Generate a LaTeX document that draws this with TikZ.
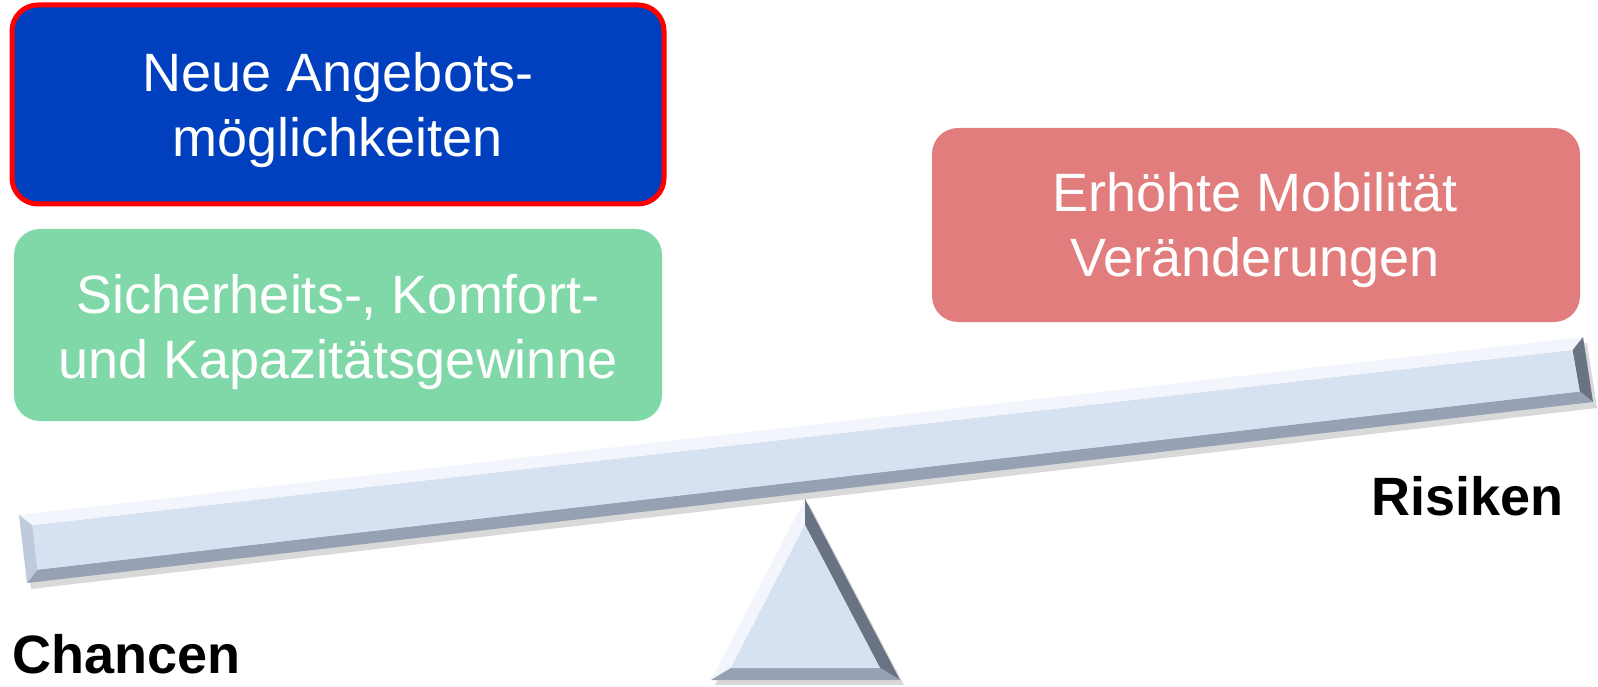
\documentclass[tikz,border=0pt]{standalone}
\usepackage{fontspec}
\setmainfont{Liberation Sans}
\begin{document}
\begin{tikzpicture}[x=1pt,y=-1pt,
  box/.style={rounded corners=26pt},
  boxtext/.style={text=white,align=center,inner sep=0pt,font=\fontsize{54}{65}\selectfont},
  label/.style={inner sep=0pt,font=\fontsize{54}{64}\selectfont\bfseries,text=black}]
\definecolor{bluebox}{RGB}{0,64,190}
\definecolor{greenbox}{RGB}{128,216,168}
\definecolor{pinkbox}{RGB}{226,125,125}
\definecolor{beamface}{RGB}{214,225,241}
\definecolor{bevtop}{RGB}{242,246,252}
\definecolor{bevleft}{RGB}{190,203,220}
\definecolor{bevbot}{RGB}{150,162,180}
\definecolor{bevright}{RGB}{105,115,132}
\useasboundingbox (0,0) rectangle (1598,687);
\fill[white] (0,0) rectangle (1598,687);
% boxes
\fill[box,bluebox] (12,5) rectangle (664,204);
\draw[box,red,line width=5pt] (12,5) rectangle (664,204);
\fill[box,greenbox] (14,229) rectangle (662,421);
\fill[box,pinkbox] (932,128) rectangle (1580,322);
\node[boxtext] (t1) at (338,110) {Neue Angebots-\\möglichkeiten};
\node[boxtext] (t2) at (338,332) {Sicherheits-, Komfort-\\und Kapazitätsgewinne};
\node[boxtext] (t3) at (1255,230) {Erhöhte Mobilität\\Veränderungen};
% beam
\coordinate (LT) at (19,515);
\coordinate (RT) at (1583,337);
\coordinate (RB) at (1593,402);
\coordinate (LB) at (27,583);
\coordinate (lt) at (32.3,525.5);
\coordinate (rt) at (1572.5,350.3);
\coordinate (rb) at (1579.7,391.5);
\coordinate (lb) at (37.5,569.7);
\fill[black,opacity=0.15] ([shift={(4,6)}]LT) -- ([shift={(4,6)}]RT) -- ([shift={(4,6)}]RB) -- ([shift={(4,6)}]LB) -- cycle;
\fill[bevtop] (LT) -- (RT) -- (rt) -- (lt) -- cycle;
\fill[bevright] (RT) -- (RB) -- (rb) -- (rt) -- cycle;
\fill[bevbot] (LB) -- (RB) -- (rb) -- (lb) -- cycle;
\fill[bevleft] (LT) -- (LB) -- (lb) -- (lt) -- cycle;
\fill[beamface] (lt) -- (rt) -- (rb) -- (lb) -- cycle;
% fulcrum
\coordinate (A) at (805,499);
\coordinate (BL) at (711,680);
\coordinate (BR) at (900,680);
\coordinate (a) at (805,525);
\coordinate (bl) at (731,668);
\coordinate (br) at (880,668);
\fill[black,opacity=0.15] ([shift={(4,5)}]A) -- ([shift={(4,5)}]BR) -- ([shift={(4,5)}]BL) -- cycle;
\fill[bevtop] (A) -- (BL) -- (bl) -- (a) -- cycle;
\fill[bevright] (A) -- (BR) -- (br) -- (a) -- cycle;
\fill[bevbot] (BL) -- (BR) -- (br) -- (bl) -- cycle;
\fill[beamface] (a) -- (bl) -- (br) -- cycle;
% labels
\node[label,anchor=base west] (ch) at (12,673) {Chancen};
\node[label,anchor=base east] (ri) at (1564,515) {Risiken};
\end{tikzpicture}
\end{document}
